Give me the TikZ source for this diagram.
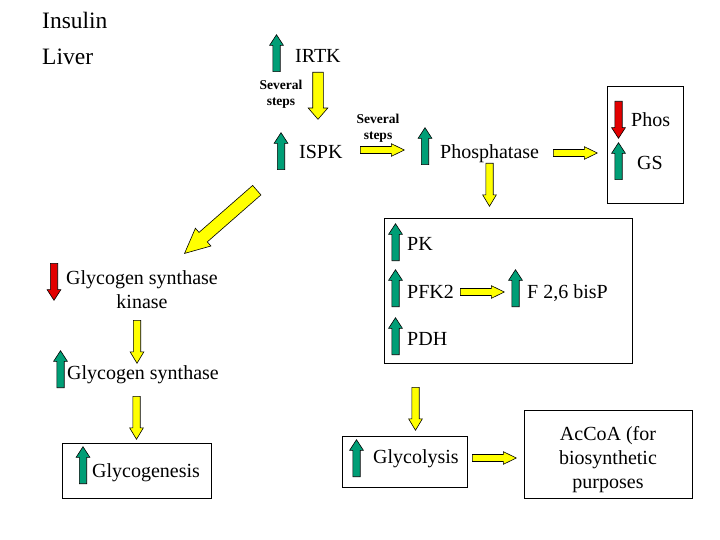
\documentclass[tikz,border=0pt]{standalone}
\usepackage{fontspec}
\setmainfont{Liberation Serif}
\usetikzlibrary{shapes.arrows}
\definecolor{upgreen}{RGB}{0,158,118}
\definecolor{pathyellow}{RGB}{255,255,0}
\definecolor{downred}{RGB}{226,0,0}
\tikzset{
  blk/.style={single arrow, draw=black, line width=0.6pt, inner xsep=0pt,
    single arrow head indent=0pt, anchor=tail},
  slim/.style={blk, minimum height=37pt, inner ysep=3.4pt,
    single arrow head extend=3.2pt, single arrow tip angle=66},
  gup/.style={slim, fill=upgreen, rotate=90},
  rdown/.style={slim, fill=downred, rotate=-90},
  ydown/.style={slim, fill=pathyellow, rotate=-90, minimum height=43pt,
    single arrow tip angle=62},
  ybig/.style={blk, fill=pathyellow, rotate=-90, minimum height=47pt, inner ysep=5pt,
    single arrow head extend=4.5pt, single arrow tip angle=82},
  yright/.style={blk, fill=pathyellow, minimum height=44pt, inner ysep=3.2pt,
    single arrow head extend=2.8pt, single arrow tip angle=52},
  ydiag/.style={blk, fill=pathyellow, rotate=221.2, minimum height=96pt, inner ysep=6pt,
    single arrow head extend=5.5pt, single arrow tip angle=51},
  lbl/.style={font=\fontsize{20}{24}\selectfont, inner sep=0pt, anchor=base west},
  big/.style={lbl, font=\fontsize{23.5}{28}\selectfont},
  steps/.style={font=\fontsize{13.5}{16}\selectfont\bfseries, inner sep=0pt,
    anchor=base, align=center},
  frame/.style={draw, line width=0.7pt}
}

\begin{document}
\begin{tikzpicture}[x=1pt,y=-1pt]
  \useasboundingbox (0,0) rectangle (720,540);

  % Titles
  \node[big] (insulin) at (42,29) {Insulin};
  \node[big] (liver) at (42,65) {Liver};

  % Receptor cascade
  \node[gup] (irtkup) at (276.5,72) {};
  \node[lbl] (irtk) at (295,63) {IRTK};
  \node[ybig] (irtkdown) at (318,72) {};
  \node[steps] (steps1) at (281,106) {Several\\steps};
  \node[gup] (ispkup) at (281,170) {};
  \node[lbl] (ispk) at (299,159) {ISPK};

  \node[steps] (steps2) at (378,140) {Several\\steps};
  \node[yright] (ispkright) at (360,150) {};
  \node[gup] (phosphup) at (425,165) {};
  \node[lbl] (phosph) at (440,159) {Phosphatase};
  \node[yright] (phosphright) at (553,153) {};
  \node[ydown] (phosphdown) at (489.5,163) {};

  % Phos / GS box
  \draw[frame] (607,86) rectangle (683,203);
  \node[rdown] (phosdown) at (618.5,101) {};
  \node[lbl] (phos) at (631,127) {Phos};
  \node[gup] (gsup) at (618.5,180) {};
  \node[lbl] (gs) at (637,170) {GS};

  % Glycolytic enzymes box
  \draw[frame] (384,218) rectangle (632,363);
  \node[gup] (pkup) at (395.5,261) {};
  \node[lbl] (pk) at (407,251) {PK};
  \node[gup] (pfkup) at (395.5,307) {};
  \node[lbl] (pfk) at (407,298) {PFK2};
  \node[yright] (pfkright) at (460,292) {};
  \node[gup] (fbpup) at (515.5,307) {};
  \node[lbl] (fbp) at (527,298) {F 2,6 bisP};
  \node[gup] (pdhup) at (395.5,355) {};
  \node[lbl] (pdh) at (407,345) {PDH};

  % Glycogen branch
  \node[ydiag] (diag) at (257,190) {};
  \node[rdown] (gskdown) at (54,263) {};
  \node[lbl, anchor=base, align=center] (gsk) at (142,308) {Glycogen synthase\\kinase};
  \node[ydown] (gskarr) at (137,320) {};
  \node[gup] (synup) at (60.5,388) {};
  \node[lbl] (syn) at (67,379) {Glycogen synthase};
  \node[ydown] (synarr) at (136.5,396) {};

  \draw[frame] (62,443) rectangle (211,498);
  \node[gup] (genup) at (83,484) {};
  \node[lbl] (gen) at (92,477) {Glycogenesis};

  % Glycolysis and products
  \node[ydown] (pdharr) at (415.5,387) {};
  \draw[frame] (342,436) rectangle (467,487);
  \node[gup] (lysup) at (356.5,477) {};
  \node[lbl] (lys) at (373,463) {Glycolysis};
  \node[yright] (lysright) at (472,458) {};
  \draw[frame] (524,410) rectangle (692,498);
  \node[lbl, anchor=base, align=center] (accoa) at (608,488) {AcCoA (for\\biosynthetic\\purposes};
\end{tikzpicture}
\end{document}
